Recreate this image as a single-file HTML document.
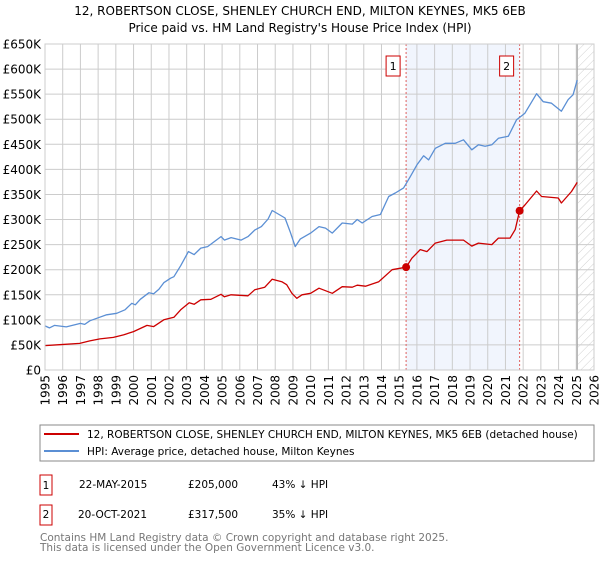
<!DOCTYPE html>
<html><head><meta charset="utf-8"><style>
body{margin:0;background:#fff;}
svg{font-family:"DejaVu Sans","Liberation Sans",sans-serif;}
</style></head><body>
<svg id="chart" width="600" height="560" viewBox="0 0 600 560">
<defs><pattern id="hatch" width="6" height="6" patternUnits="userSpaceOnUse" patternTransform="rotate(45)"><line x1="0" y1="0" x2="0" y2="6" stroke="#d0d0d0" stroke-width="1"/></pattern></defs>
<text x="300" y="15" text-anchor="middle" font-size="12" fill="#000">12, ROBERTSON CLOSE, SHENLEY CHURCH END, MILTON KEYNES, MK5 6EB</text>
<text x="300" y="32" text-anchor="middle" font-size="12" fill="#000">Price paid vs. HM Land Registry's House Price Index (HPI)</text>
<g id="plot"></g>
<rect x="40" y="425" width="554" height="36" fill="#fff" stroke="#888"/>
<line x1="44" y1="434" x2="79" y2="434" stroke="#cc0000" stroke-width="2"/>
<text x="87" y="438" font-size="10.5">12, ROBERTSON CLOSE, SHENLEY CHURCH END, MILTON KEYNES, MK5 6EB (detached house)</text>
<line x1="44" y1="451" x2="79" y2="451" stroke="#5b8fd4" stroke-width="2"/>
<text x="87" y="455" font-size="10.5">HPI: Average price, detached house, Milton Keynes</text>
<g>
<rect x="40" y="475" width="12" height="20" fill="none" stroke="#cc0000"/>
<text x="46" y="489" font-size="10.5" text-anchor="middle">1</text>
<text x="79" y="488" font-size="10.5">22-MAY-2015</text>
<text x="188" y="488" font-size="10.5">£205,000</text>
<text x="272" y="488" font-size="10.5">43% ↓ HPI</text></g>
<g>
<rect x="40" y="505" width="12" height="20" fill="none" stroke="#cc0000"/>
<text x="46" y="518" font-size="10.5" text-anchor="middle">2</text>
<text x="78" y="518" font-size="10.5">20-OCT-2021</text>
<text x="188" y="518" font-size="10.5">£317,500</text>
<text x="272" y="518" font-size="10.5">35% ↓ HPI</text></g>
<text x="40" y="541" font-size="10.5" fill="#777">Contains HM Land Registry data © Crown copyright and database right 2025.</text>
<text x="40" y="551" font-size="10.5" fill="#777">This data is licensed under the Open Government Licence v3.0.</text>
</svg>
<script>
const hpiYears=[1995.0,1995.25,1995.53,1996.2,1997.0,1997.24,1997.53,1998.0,1998.48,1999.05,1999.52,1999.9,2000.1,2000.38,2000.86,2001.14,2001.43,2001.71,2002.09,2002.28,2002.66,2003.1,2003.42,2003.8,2004.18,2004.56,2004.94,2005.13,2005.51,2006.08,2006.46,2006.84,2007.22,2007.6,2007.83,2008.17,2008.55,2008.84,2009.13,2009.41,2010,2010.47,2010.84,2011.22,2011.78,2012.35,2012.63,2012.91,2013.47,2013.94,2014.41,2014.78,2015.25,2015.63,2016.0,2016.38,2016.66,2017.04,2017.6,2018.16,2018.63,2019.1,2019.47,2019.85,2020.23,2020.6,2021.16,2021.63,2022.1,2022.76,2023.13,2023.6,2024.16,2024.54,2024.82,2025.05];
const hpiValues=[88,84,89,86,93,91,98,104,110,113,120,133,130,141,154,152,161,174,183,186,208,236,230,243,246,256,266,259,264,259,266,279,286,301,318,311,303,276,246,261,273,286,283,273,293,291,300,293,306,310,346,353,363,386,409,427,419,442,452,452,459,439,449,446,449,462,466,499,512,551,535,532,516,539,549,578];
const propYears=[1995,1995.82,1996.96,1997.53,1998.1,1998.86,1999.43,2000.0,2000.76,2001.14,2001.71,2002.28,2002.66,2003.14,2003.42,2003.8,2004.37,2004.94,2005.13,2005.51,2006.46,2006.84,2007.41,2007.83,2008.37,2008.65,2008.94,2009.22,2009.51,2010,2010.47,2011.22,2011.78,2012.35,2012.63,2013.1,2013.85,2014.6,2015.39,2015.72,2016.19,2016.57,2017.04,2017.69,2018.63,2019.1,2019.47,2020.23,2020.6,2021.26,2021.55,2021.8,2022.1,2022.76,2023.04,2023.98,2024.16,2024.73,2025.05];
const propValues=[48.6,50.5,53,58,62,65,70,76.5,89,86.5,100,105,120,134,131,140,141,151,146,150,148,160,165,181,176,170,153,143,150,153,163,153,166,165,169,167,176,200,205,223,240,236,253,259,259,247,253,250,263,263,280,317.5,329,357,346,343,333,356,374];
const saleYears=[2015.39,2021.8];
const saleValues=[205,317.5];
const saleLabels=["1","2"];
const yTicks=[0,50,100,150,200,250,300,350,400,450,500,550,600,650];
const xTicks=[1995,1996,1997,1998,1999,2000,2001,2002,2003,2004,2005,2006,2007,2008,2009,2010,2011,2012,2013,2014,2015,2016,2017,2018,2019,2020,2021,2022,2023,2024,2025,2026];
const L=45,R=594,T=44,B=370;
const xS=y=>L+(y-1995)/(2026-1995)*(R-L);
const yS=v=>B-v/650*(B-T);
const NS="http://www.w3.org/2000/svg";
const g=document.getElementById('plot');
function mk(t,a,p){const e=document.createElementNS(NS,t);for(const k in a)e.setAttribute(k,a[k]);(p||g).appendChild(e);return e;}
let sh=mk('rect',{x:xS(saleYears[0]),y:T,width:xS(saleYears[1])-xS(saleYears[0]),height:B-T,fill:'#f1f5fd'});


let ht=mk('rect',{x:xS(2025.1),y:T,width:R-xS(2025.1),height:B-T,fill:'url(#hatch)'});


yTicks.forEach(v=>{
 let l=mk('line',{x1:L,x2:R,y1:yS(v),y2:yS(v),stroke:'#ccc','stroke-width':1});
 
 
 let t=mk('text',{x:41,y:yS(v)+4.5,'text-anchor':'end','font-size':12});
 t.textContent=v===0?'£0':'£'+v+'K';
 
 
});
xTicks.forEach(y=>{
 let l=mk('line',{x1:xS(y),x2:xS(y),y1:T,y2:B,stroke:'#ccc','stroke-width':1});
 
 
 let t=mk('text',{x:0,y:0,'text-anchor':'end','font-size':12,transform:`translate(${xS(y)+4.5},375) rotate(-90)`});
 t.textContent=y;
 
 
});
let vl=mk('line',{x1:xS(2025.05),x2:xS(2025.05),y1:T,y2:B,stroke:'#999','stroke-width':1});


saleYears.forEach((y,i)=>{
 let l=mk('line',{x1:xS(y),x2:xS(y),y1:T,y2:B,stroke:'#e06060','stroke-width':1,'stroke-dasharray':'2,2'});
 
 
});
function line(xs,vs,c,name){
 let d=xs.map((x,i)=>(i?'L':'M')+xS(x).toFixed(1)+','+yS(vs[i]).toFixed(1)).join('');
 let p=mk('path',{d:d,fill:'none',stroke:c,'stroke-width':1.3,'stroke-linejoin':'round'});
 
 
}
line(hpiYears,hpiValues,'#5b8fd4','hpi-line');
line(propYears,propValues,'#cc0000','property-line');
saleYears.forEach((y,i)=>{
 let c=mk('circle',{cx:xS(y),cy:yS(saleValues[i]),r:4,fill:'#cc0000'});
 
 
 let b=mk('rect',{x:xS(y)-20,y:56,width:14,height:20,fill:'#fff',stroke:'#cc0000'});
 
 
 let t=mk('text',{x:xS(y)-13,y:70,'text-anchor':'middle','font-size':11});
 t.textContent=saleLabels[i];
 
 
});
let ax=mk('rect',{x:L,y:T,width:R-L,height:B-T,fill:'none',stroke:'#ccc'});


</script>
</body></html>
